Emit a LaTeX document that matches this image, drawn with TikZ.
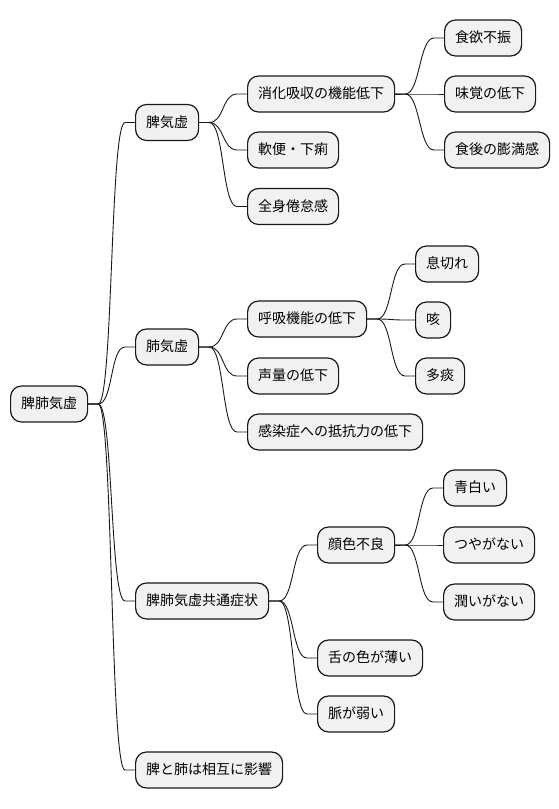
\documentclass[tikz,border=0pt]{standalone}
\usepackage{fontspec}
\setmainfont{Noto Sans CJK JP}
\begin{document}
\begin{tikzpicture}[x=1pt,y=-1pt,
  mm/.style={draw=black!90,fill=black!5.5,line width=1.2pt,rounded corners=11pt,
    minimum height=36pt,inner xsep=10.5pt,anchor=west,font=\fontsize{14pt}{16pt}\selectfont,
    text height=11pt,text depth=2pt},
  link/.style={draw=black!90,line width=0.9pt}]
\useasboundingbox[fill=white] (0,0) rectangle (558,809);
\newcommand{\lnk}[2]{\draw[link] (#1.east) -- ++(10pt,0) .. controls +(15pt,0) and +(-15pt,0) .. ([xshift=-10pt]#2.west) -- (#2.west);}
% root
\node[mm] (r) at (10,404) {脾肺気虚};
% level 1
\node[mm] (a) at (135,122.5) {脾気虚};
\node[mm] (b) at (135,347) {肺気虚};
\node[mm] (c) at (135,601) {脾肺気虚共通症状};
\node[mm] (d) at (135,770) {脾と肺は相互に影響};
% level 2
\node[mm] (a1) at (247,94) {消化吸収の機能低下};
\node[mm] (a2) at (247,150) {軟便・下痢};
\node[mm] (a3) at (247,206.5) {全身倦怠感};
\node[mm] (b1) at (247,319) {呼吸機能の低下};
\node[mm] (b2) at (247,376) {声量の低下};
\node[mm] (b3) at (247,432) {感染症への抵抗力の低下};
\node[mm] (c1) at (317,545) {顔色不良};
\node[mm] (c2) at (317,658) {舌の色が薄い};
\node[mm] (c3) at (317,714) {脈が弱い};
% level 3
\node[mm] (a11) at (444,38) {食欲不振};
\node[mm] (a12) at (444,94) {味覚の低下};
\node[mm] (a13) at (444,150) {食後の膨満感};
\node[mm] (b11) at (415,264) {息切れ};
\node[mm] (b12) at (415,320) {咳};
\node[mm] (b13) at (415,376) {多痰};
\node[mm] (c11) at (443,488) {青白い};
\node[mm] (c12) at (443,545) {つやがない};
\node[mm] (c13) at (443,602) {潤いがない};
% links
\lnk{r}{a}\lnk{r}{b}\lnk{r}{c}\lnk{r}{d}
\lnk{a}{a1}\lnk{a}{a2}\lnk{a}{a3}
\lnk{b}{b1}\lnk{b}{b2}\lnk{b}{b3}
\lnk{c}{c1}\lnk{c}{c2}\lnk{c}{c3}
\lnk{a1}{a11}\lnk{a1}{a12}\lnk{a1}{a13}
\lnk{b1}{b11}\lnk{b1}{b12}\lnk{b1}{b13}
\lnk{c1}{c11}\lnk{c1}{c12}\lnk{c1}{c13}
\end{tikzpicture}
\end{document}
